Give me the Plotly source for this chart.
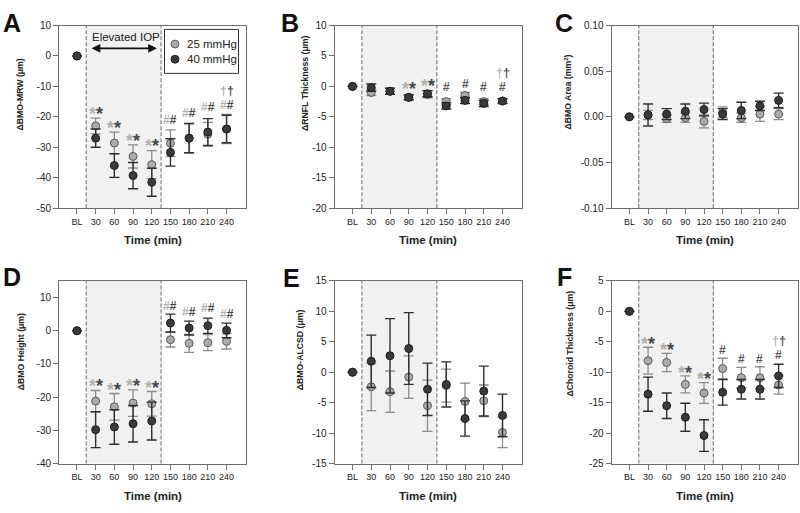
import plotly.graph_objects as go

W, H = 800, 513

# ---------------- data ----------------
time_labels = ["BL", "30", "60", "90", "120", "150", "180", "210", "240"]
xpos = list(range(len(time_labels)))

# A: delta BMO-MRW (um)
a_25 = [0, -23.0, -28.6, -33.0, -35.7, -28.7, -27.0, -25.7, -24.0]
a_25_err = [None, 2.6, 3.6, 3.8, 4.6, 4.4, 4.8, 3.9, 4.8]
a_40 = [0, -27.0, -36.0, -39.3, -41.5, -31.7, -27.0, -25.0, -24.0]
a_40_err = [None, 3.0, 3.9, 4.3, 4.6, 4.5, 4.8, 4.4, 4.5]

# B: delta RNFL thickness (um)
b_25 = [0, -1.0, -0.8, -1.8, -1.3, -2.5, -1.5, -2.5, -2.4]
b_25_err = [None, 0.5, 0.5, 0.4, 0.6, 0.5, 0.5, 0.5, 0.4]
b_40 = [0, -0.2, -0.8, -1.8, -1.2, -3.2, -2.3, -2.8, -2.4]
b_40_err = [None, 0.6, 0.5, 0.4, 0.5, 0.5, 0.5, 0.5, 0.4]

# C: delta BMO area (mm2)
c_25 = [0, 0.002, -0.002, -0.001, -0.005, 0.005, -0.001, 0.003, 0.003]
c_25_err = [None, 0.005, 0.004, 0.005, 0.007, 0.006, 0.005, 0.008, 0.006]
c_40 = [0, 0.002, 0.003, 0.006, 0.008, 0.003, 0.007, 0.012, 0.018]
c_40_err = [None, 0.012, 0.006, 0.008, 0.007, 0.006, 0.009, 0.005, 0.008]

# D: delta BMO height (um)
d_25 = [0, -21.2, -22.9, -21.8, -22.0, -2.7, -3.8, -3.6, -3.2]
d_25_err = [None, 3.2, 4.0, 4.0, 3.7, 2.2, 2.7, 2.4, 2.3]
d_40 = [0, -29.8, -29.0, -28.0, -27.2, 2.3, 0.8, 1.5, 0.1]
d_40_err = [None, 5.4, 5.2, 5.5, 5.7, 2.7, 2.1, 2.3, 2.2]

# E: delta BMO-ALCSD (um)
e_25 = [0, -2.4, -3.2, -0.8, -5.5, -2.2, -4.8, -4.7, -9.9]
e_25_err = [None, 3.9, 3.4, 3.5, 4.2, 2.7, 3.0, 2.6, 2.5]
e_40 = [0, 1.8, 2.7, 3.9, -2.8, -2.0, -7.6, -3.1, -7.1]
e_40_err = [None, 4.3, 6.1, 5.9, 4.3, 3.7, 2.9, 4.1, 3.5]

# F: delta choroid thickness (um)
f_25 = [0, -8.1, -8.4, -12.0, -13.4, -9.4, -10.9, -10.9, -12.1]
f_25_err = [None, 2.2, 1.5, 1.4, 1.7, 1.7, 1.7, 1.8, 1.5]
f_40 = [0, -13.6, -15.5, -17.4, -20.4, -13.3, -12.8, -12.8, -10.6]
f_40_err = [None, 2.8, 2.1, 2.3, 2.6, 2.1, 1.6, 1.6, 1.9]

# significance symbols (category index, y value, symbol)
sigA_idx = [1, 2, 3, 4, 5, 6, 7, 8, 8]
sigA_y = [-17.5, -22.1, -26.4, -28.2, -21.0, -18.9, -16.9, -16.2, -11.9]
sigA_sym = ["**", "**", "**", "**", "##", "##", "##", "##", "††"]

sigB_idx = [3, 4, 5, 6, 7, 8, 8]
sigB_y = [0.37, 0.74, -0.06, 0.37, -0.06, -0.06, 1.98]
sigB_sym = ["**", "**", "#", "#", "#", "#", "††"]

sigD_idx = [1, 2, 3, 4, 5, 6, 7, 8]
sigD_y = [-15.4, -16.6, -15.4, -15.8, 7.4, 5.5, 6.7, 5.0]
sigD_sym = ["**", "**", "**", "**", "##", "##", "##", "##"]

sigF_idx = [1, 2, 3, 4, 5, 6, 7, 8, 8]
sigF_y = [-4.7, -5.6, -9.4, -10.4, -6.4, -7.8, -7.8, -7.2, -5.0]
sigF_sym = ["**", "**", "**", "**", "#", "#", "#", "#", "††"]

# y ticks
A_ticks = [-50, -40, -30, -20, -10, 0, 10]
B_ticks = [-20, -15, -10, -5, 0, 5, 10]
C_ticks = [-0.10, -0.05, 0.00, 0.05, 0.10]
C_ticktext = ["-0.10", "-0.05", "0.00", "0.05", "0.10"]
D_ticks = [-40, -30, -20, -10, 0, 10]
E_ticks = [-15, -10, -5, 0, 5, 10, 15]
F_ticks = [-25, -20, -15, -10, -5, 0, 5]

series_names = ["25 mmHg", "40 mmHg"]

# ---------------- style ----------------
FONT = "Arial, Liberation Sans, sans-serif"
LIGHT = "#ababab"
LIGHT_EDGE = "#5a5a5a"
LIGHT_ERR = "#8c8c8c"
DARK = "#3a3a3a"
DARK_EDGE = "#1e1e1e"
DARK_ERR = "#2e2e2e"
AX = "#6e6e6e"
SHADE = "#f1f1f1"
SYM_LIGHT = "#b0b0b0"
SYM_DARK = "#474747"


def px(x):
    return x / W


def py(y):
    return 1 - y / H


def tt(v):
    return [str(t) for t in v]


panels = [
    dict(letter="A", y25=a_25, e25=a_25_err, y40=a_40, e40=a_40_err,
         yr=[-50, 10], tv=A_ticks, tt=tt(A_ticks),
         ylab="ΔBMO-MRW (μm)", xd=(59, 246), yd=(20, 207),
         lx=12, ly=17, tx=19.5, tb=130,
         sig=(sigA_idx, sigA_y, sigA_sym)),
    dict(letter="B", y25=b_25, e25=b_25_err, y40=b_40, e40=b_40_err,
         yr=[-20, 10], tv=B_ticks, tt=tt(B_ticks),
         ylab="ΔRNFL Thickness (μm)", xd=(334.5, 522), yd=(20, 207),
         lx=290, ly=17, tx=305, tb=130,
         sig=(sigB_idx, sigB_y, sigB_sym)),
    dict(letter="C", y25=c_25, e25=c_25_err, y40=c_40, e40=c_40_err,
         yr=[-0.10, 0.10], tv=C_ticks, tt=C_ticktext,
         ylab="ΔBMO Area (mm<sup>2</sup>)", xd=(611.5, 798), yd=(20, 207),
         lx=564, ly=17, tx=568, tb=129,
         sig=None),
    dict(letter="D", y25=d_25, e25=d_25_err, y40=d_40, e40=d_40_err,
         yr=[-40, 15], tv=D_ticks, tt=tt(D_ticks),
         ylab="ΔBMO Height (μm)", xd=(59, 246), yd=(281.5, 468.5),
         lx=12, ly=277, tx=21, tb=396,
         sig=(sigD_idx, sigD_y, sigD_sym)),
    dict(letter="E", y25=e_25, e25=e_25_err, y40=e_40, e40=e_40_err,
         yr=[-15, 15], tv=E_ticks, tt=tt(E_ticks),
         ylab="ΔBMO-ALCSD (μm)", xd=(334.5, 522), yd=(281.5, 468.5),
         lx=291, ly=279, tx=300, tb=396,
         sig=None),
    dict(letter="F", y25=f_25, e25=f_25_err, y40=f_40, e40=f_40_err,
         yr=[-25, 5], tv=F_ticks, tt=tt(F_ticks),
         ylab="ΔChoroid Thickness (μm)", xd=(611.5, 798), yd=(281.5, 468.5),
         lx=564, ly=278, tx=570, tb=402,
         sig=(sigF_idx, sigF_y, sigF_sym)),
]

fig = go.Figure()
layout = dict(
    width=W, height=H, margin=dict(l=0, r=0, t=0, b=0),
    paper_bgcolor="white", plot_bgcolor="white",
    showlegend=False, font=dict(family=FONT, color="#222"),
)
shapes = []
annotations = []

for i, p in enumerate(panels, start=1):
    sfx = "" if i == 1 else str(i)
    xr, yr = "x" + sfx, "y" + sfx
    layout["xaxis" + sfx] = dict(
        domain=[px(p["xd"][0]), px(p["xd"][1])], range=[-0.96, 9.04],
        anchor=yr, tickvals=xpos, ticktext=time_labels,
        ticks="outside", ticklen=5, tickwidth=1, tickcolor=AX,
        showline=True, linecolor=AX, linewidth=1, mirror=True,
        showgrid=False, zeroline=False,
        tickfont=dict(size=9, color="#222", family=FONT),
    )
    layout["yaxis" + sfx] = dict(
        domain=[py(p["yd"][1]), py(p["yd"][0])], range=p["yr"],
        anchor=xr, tickvals=p["tv"], ticktext=p["tt"],
        ticks="outside", ticklen=5, tickwidth=1, tickcolor=AX,
        showline=True, linecolor=AX, linewidth=1, mirror=True,
        showgrid=False, zeroline=False,
        tickfont=dict(size=10, color="#222", family=FONT),
    )
    # shaded elevated IOP window + dashed borders
    shapes.append(dict(type="rect", xref=xr, yref=yr + " domain",
                       x0=0.5, x1=4.5, y0=0, y1=1, fillcolor=SHADE,
                       line=dict(width=0), layer="below"))
    for xv in (0.5, 4.5):
        shapes.append(dict(type="line", xref=xr, yref=yr + " domain",
                           x0=xv, x1=xv, y0=0, y1=1,
                           line=dict(color="#8a8a8a", width=1.3, dash="4px,2px"),
                           layer="below"))
    # data
    fig.add_trace(go.Scatter(
        x=xpos, y=p["y25"], mode="markers", name=series_names[0],
        xaxis=xr, yaxis=yr,
        marker=dict(size=8, color=LIGHT, line=dict(color=LIGHT_EDGE, width=1)),
        error_y=dict(type="data", array=p["e25"], color=LIGHT_ERR,
                     thickness=1.3, width=5),
    ))
    fig.add_trace(go.Scatter(
        x=xpos, y=p["y40"], mode="markers", name=series_names[1],
        xaxis=xr, yaxis=yr,
        marker=dict(size=8, color=DARK, line=dict(color=DARK_EDGE, width=1)),
        error_y=dict(type="data", array=p["e40"], color=DARK_ERR,
                     thickness=1.4, width=5),
    ))
    # panel letter
    annotations.append(dict(text="<b>%s</b>" % p["letter"], xref="paper", yref="paper",
                            x=px(p["lx"]), y=py(p["ly"]), xanchor="center", yanchor="middle",
                            showarrow=False, font=dict(size=25, color="#111", family=FONT)))
    # y-axis title
    annotations.append(dict(text="<b>%s</b>" % p["ylab"], xref="paper", yref="paper",
                            x=px(p["tx"]), y=py(p["tb"]), xanchor="center", yanchor="bottom",
                            textangle=-90, showarrow=False,
                            font=dict(size=8.7, color="#222", family=FONT)))
    # x-axis title
    xc = (p["xd"][0] + p["xd"][1]) / 2
    ytitle = 239.5 if p["yd"][0] < 100 else 501.5
    annotations.append(dict(text="<b>Time (min)</b>", xref="paper", yref="paper",
                            x=px(xc), y=py(ytitle), xanchor="center", yanchor="middle",
                            showarrow=False, font=dict(size=11.5, color="#222", family=FONT)))
    # significance symbols
    if p["sig"] is not None:
        for xi, yv, sym in zip(*p["sig"]):
            ch = sym[0]
            if len(sym) == 2:
                txt = ("<span style='color:%s'>%s</span><span style='color:%s'>%s</span>"
                       % (SYM_LIGHT, ch, SYM_DARK, ch))
            else:
                txt = "<span style='color:%s'>%s</span>" % ("#555555", ch)
            if ch == "*":
                size, ysh = 18, -4.5
            elif ch == "#":
                size, ysh = 12, 0
            else:
                size, ysh = 12.5, 1
            annotations.append(dict(text="<b>%s</b>" % txt, xref=xr, yref=yr,
                                    x=xi, y=yv, yshift=ysh, showarrow=False,
                                    xanchor="center", yanchor="middle",
                                    font=dict(size=size, family=FONT)))

# Elevated IOP label + double arrow (panel A)
annotations.append(dict(text="Elevated IOP", xref="paper", yref="paper",
                        x=px(126), y=py(32), xanchor="center", yanchor="middle",
                        showarrow=False, font=dict(size=11.5, color="#222", family=FONT)))
annotations.append(dict(text="", xref="x", yref="y", x=4.28, y=2.5,
                        axref="x", ayref="y", ax=0.70, ay=2.5,
                        showarrow=True, arrowside="end+start",
                        arrowhead=2, startarrowhead=2, arrowsize=1.1, startarrowsize=1.1,
                        arrowwidth=1.6, arrowcolor="#111"))

# Legend box (panel A)
shapes.append(dict(type="rect", xref="paper", yref="paper",
                   x0=px(164.5), x1=px(238.5), y0=py(69), y1=py(24),
                   fillcolor="white", line=dict(color="#333", width=1)))
for yy, col, edge, name in ((39, LIGHT, LIGHT_EDGE, series_names[0]),
                            (54.5, DARK, DARK_EDGE, series_names[1])):
    shapes.append(dict(type="circle", xref="paper", yref="paper",
                       x0=px(175 - 4), x1=px(175 + 4), y0=py(yy + 4), y1=py(yy - 4),
                       fillcolor=col, line=dict(color=edge, width=1)))
    annotations.append(dict(text=name, xref="paper", yref="paper",
                            x=px(185), y=py(yy), xanchor="left", yanchor="middle",
                            showarrow=False, font=dict(size=11.5, color="#222", family=FONT)))

layout["shapes"] = shapes
layout["annotations"] = annotations
fig.update_layout(**layout)
fig.write_html("out.html", config={"displayModeBar": False},
               post_script="document.body.style.margin='0px';document.body.style.overflow='hidden';")
